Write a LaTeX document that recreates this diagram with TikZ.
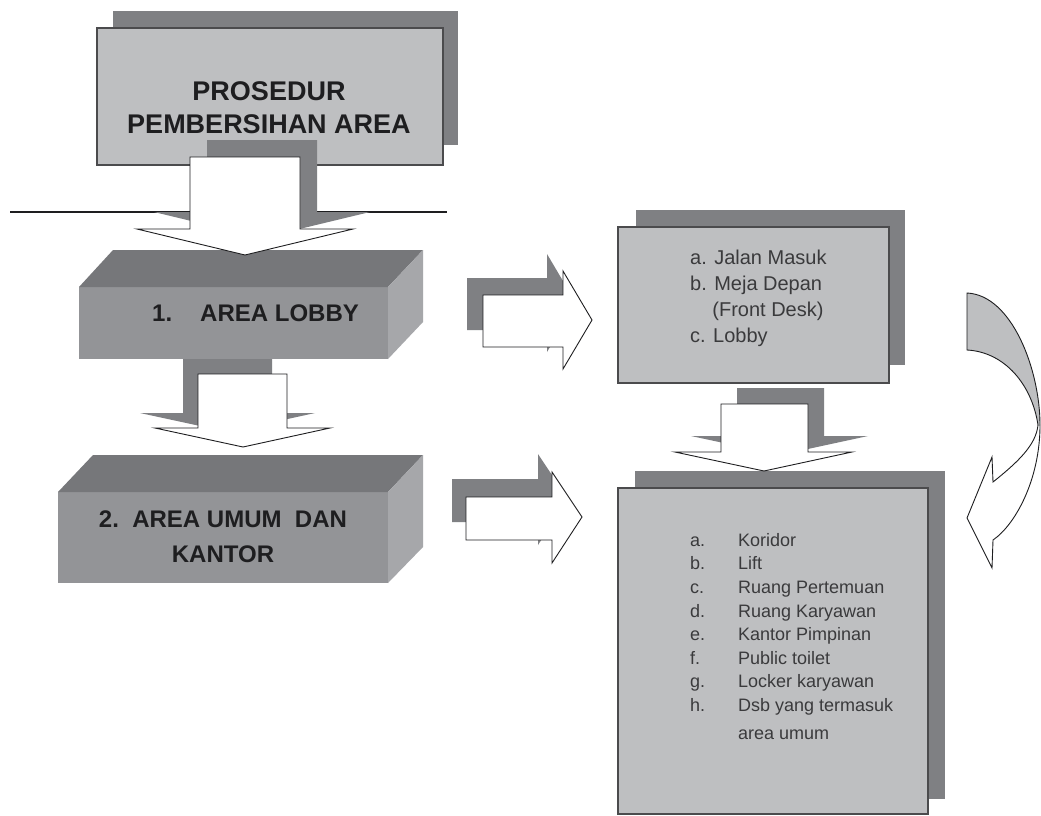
\documentclass[tikz,border=0pt]{standalone}
\usepackage{fontspec}
\setmainfont{Liberation Sans}
\definecolor{shadowgray}{RGB}{127,128,131}
\definecolor{panelgray}{RGB}{190,191,193}
\definecolor{edgegray}{RGB}{75,75,77}
\definecolor{boxtop}{RGB}{118,119,122}
\definecolor{boxfront}{RGB}{147,148,151}
\definecolor{boxside}{RGB}{166,167,170}
\definecolor{inkdark}{RGB}{30,30,32}
\definecolor{inklist}{RGB}{58,58,60}

% down block arrow: shaft x1, shaft x2, top y, wing y, wing x1, wing x2, tip x, tip y
\newcommand{\blkdown}[8]{(#1,#3) -- (#2,#3) -- (#2,#4) -- (#6,#4) -- (#7,#8) -- (#5,#4) -- (#1,#4) -- cycle}
% right block arrow: shaft left x, shaft top y, shaft bottom y, head x, head top y, head bottom y, tip x, tip y
\newcommand{\blkright}[8]{(#1,#2) -- (#4,#2) -- (#4,#5) -- (#7,#8) -- (#4,#6) -- (#4,#3) -- (#1,#3) -- cycle}
% curved return arrow on the right
\newcommand{\curvepath}{(967,293) .. controls (1012,295) and (1040,370) .. (1040,425)
  .. controls (1040,480) and (1015,525) .. (993,540) -- (992,568) -- (967,518) -- (992,457) -- (993,482)
  .. controls (1018,462) and (1036,445) .. (1038,425)
  .. controls (1032,385) and (1005,352) .. (967,350) -- cycle}

\begin{document}
\begin{tikzpicture}[x=1pt,y=-1pt,
  panel/.style={fill=panelgray, draw=edgegray, line width=1.3pt},
  panelshadow/.style={fill=shadowgray},
  blockarrow/.style={fill=white, draw=inkdark, line width=0.9pt, line join=miter},
  arrowshadow/.style={fill=shadowgray},
  headtext/.style={font=\bfseries\fontsize{27}{33}\selectfont, text=inkdark, align=center, inner sep=0pt},
  boxtext/.style={font=\bfseries\fontsize{24}{35}\selectfont, text=inkdark, inner sep=0pt},
  listtext/.style={text=inklist, align=left, inner sep=0pt, anchor=north west}]

\useasboundingbox (0,0) rectangle (1041,815);
\fill[white] (0,0) rectangle (1041,815);

% title panel
\fill[panelshadow] (113,11) rectangle (458,145);
\path[panel] (97,28) rectangle (443,165);
\node[headtext] (title) at (269,108) {PROSEDUR\\PEMBERSIHAN AREA};

% rule under the title
\coordinate (ruleL) at (10,212);
\coordinate (ruleR) at (447,212);
\draw[line width=2pt, inkdark] (ruleL) -- (ruleR);

% 3D box: area lobby
\fill[boxfront] (79,287) rectangle (388,359);
\fill[boxtop] (79,287) -- (113,250) -- (423,250) -- (388,287) -- cycle;
\fill[boxside] (388,287) -- (423,250) -- (423,322) -- (388,359) -- cycle;
\node[boxtext, anchor=west] (lobby) at (152,313) {1.\hspace{28pt}AREA LOBBY};

% 3D box: area umum dan kantor
\fill[boxfront] (58,492) rectangle (388,583);
\fill[boxtop] (58,492) -- (93,455) -- (423,455) -- (388,492) -- cycle;
\fill[boxside] (388,492) -- (423,455) -- (423,547) -- (388,583) -- cycle;
\node[boxtext, align=center] (umum) at (223,537) {2.\ \ AREA UMUM\ \ DAN\\KANTOR};

% arrow: title -> lobby
\fill[arrowshadow, shift={(17,-17)}] \blkdown{190}{300}{157}{229}{137}{353}{245}{255};
\path[blockarrow] \blkdown{190}{300}{157}{229}{137}{353}{245}{255};

% arrow: lobby -> umum
\fill[arrowshadow, shift={(-15,-15)}] \blkdown{198}{287}{374}{428}{155}{330}{243}{447};
\path[blockarrow] \blkdown{198}{287}{374}{428}{155}{330}{243}{447};

% list panel: lobby
\fill[panelshadow] (636,210) rectangle (905,365);
\path[panel] (618,227) rectangle (889,383);
\node[listtext, font=\fontsize{20}{26}\selectfont] (lobbylist) at (690,250)
  {a. Jalan Masuk\\b. Meja Depan\\\hspace*{22.2pt}(Front Desk)\\c. Lobby};

% list panel: umum
\fill[panelshadow] (635,471) rectangle (945,799);
\path[panel] (618,488) rectangle (928,814);
\node[listtext, font=\fontsize{18}{23.6}\selectfont] (umumlist) at (690,533)
  {\makebox[48pt][l]{a.}Koridor\\
   \makebox[48pt][l]{b.}Lift\\
   \makebox[48pt][l]{c.}Ruang Pertemuan\\
   \makebox[48pt][l]{d.}Ruang Karyawan\\
   \makebox[48pt][l]{e.}Kantor Pimpinan\\
   \makebox[48pt][l]{f.}Public toilet\\
   \makebox[48pt][l]{g.}Locker karyawan\\
   \makebox[48pt][l]{h.}Dsb yang termasuk\\[4pt]
   \hspace*{48pt}area umum};

% arrow: lobby list -> umum list
\fill[arrowshadow, shift={(16,-16)}] \blkdown{721}{808}{404}{452}{675}{852}{764}{471};
\path[blockarrow] \blkdown{721}{808}{404}{452}{675}{852}{764}{471};

% arrows: boxes -> list panels
\fill[arrowshadow, shift={(-16,-17)}] \blkright{483}{295}{347}{563}{271}{369}{592}{320};
\path[blockarrow] \blkright{483}{295}{347}{563}{271}{369}{592}{320};
\fill[arrowshadow, shift={(-14,-18)}] \blkright{466}{497}{540}{552}{472}{563}{582}{517};
\path[blockarrow] \blkright{466}{497}{540}{552}{472}{563}{582}{517};

% curved return arrow
\fill[white] \curvepath;
\begin{scope}
  \clip (940,280) rectangle (1041,425);
  \fill[panelgray] \curvepath;
\end{scope}
\draw[inkdark, line width=0.9pt, line join=miter] \curvepath;

\end{tikzpicture}
\end{document}
